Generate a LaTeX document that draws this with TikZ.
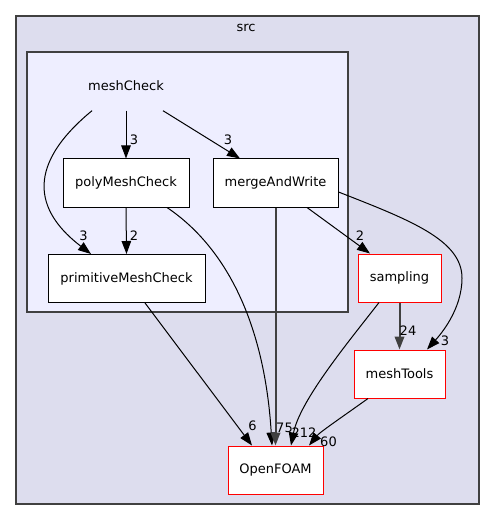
\documentclass[tikz,border=0pt]{standalone}
\usepackage{fontspec}
\setmainfont{DejaVu Sans}
\usetikzlibrary{arrows.meta}
\definecolor{srcfill}{HTML}{DDDDEE}
\definecolor{subfill}{HTML}{EEEEFF}
\definecolor{borde}{HTML}{404040}

\begin{document}
\begin{tikzpicture}[x=1pt, y=-1pt,
        every node/.style={font=\fontsize{13}{15}\selectfont},
        dir/.style={draw=black, fill=white, line width=1pt, minimum height=48pt, inner sep=0pt},
        ext/.style={dir, draw=red},
        dep/.style={-{Triangle[length=13pt,width=9.5pt]}, line width=1pt},
        gruesa/.style={dep, line width=2pt, draw=borde, fill=borde},
        cuenta/.style={inner sep=0pt}]
        \useasboundingbox (0,0) rectangle (495,521);

        % Carpetas
        \draw[fill=srcfill, draw=borde, line width=1.3pt] (16,16) rectangle (479,504);
        \node (src) at (246,28) {src};
        \draw[fill=subfill, draw=borde, line width=1.3pt] (27,52) rectangle (348,312);
        \node[minimum width=110pt, minimum height=49pt, inner sep=0pt] (meshcheck) at (126,86) {meshCheck};

        % Directorios
        \node[dir, minimum width=126pt] (poly) at (126,183) {polyMeshCheck};
        \node[dir, minimum width=125pt] (merge) at (275.5,183) {mergeAndWrite};
        \node[dir, minimum width=157pt] (prim) at (126.5,278.5) {primitiveMeshCheck};
        \node[ext, minimum width=83pt] (sampling) at (399.5,278) {sampling};
        \node[ext, minimum width=91pt] (meshtools) at (399.5,374) {meshTools};
        \node[ext, minimum width=95pt] (openfoam) at (275.5,470) {OpenFOAM};

        % Dependencias
        \draw[dep] ([xshift=-34pt]meshcheck.south) .. controls (20,170) and (40,215) .. ([xshift=-35.5pt]prim.north);
        \draw[dep] (meshcheck.south) -- (poly.north);
        \draw[dep] ([xshift=37pt]meshcheck.south) -- ([xshift=-35.5pt]merge.north);
        \draw[dep] (poly.south) -- (prim.north);
        \draw[dep] ([xshift=41pt]poly.south) .. controls (230,250) and (265,330) .. ([xshift=-3.5pt]openfoam.north);
        \draw[dep] ([xshift=18.5pt]prim.south) -- ([xshift=-23.5pt]openfoam.north);
        \draw[gruesa] (merge.south) -- (openfoam.north);
        \draw[dep] ([xshift=31.5pt]merge.south) -- ([xshift=-29.5pt]sampling.north);
        \coordinate (rodeo) at (462,278);
        \draw[dep] ([yshift=-9pt]merge.east) .. controls (410,220) and (462,240) .. (rodeo)
            .. controls (462,310) and (440,335) .. ([xshift=27.5pt]meshtools.north);
        \draw[gruesa] (sampling.south) -- (meshtools.north);
        \draw[dep] ([xshift=-20.5pt]sampling.south) .. controls (350,340) and (300,400) .. ([xshift=15.5pt]openfoam.north);
        \draw[dep] ([xshift=-31.5pt]meshtools.south) .. controls (345,415) and (320,432) .. ([xshift=33.5pt]openfoam.north);

        % Cuentas
        \node[cuenta] (c1) at (134,140) {3};
        \node[cuenta] (c2) at (228,140) {3};
        \node[cuenta] (c3) at (83.5,236) {3};
        \node[cuenta] (c4) at (134,236) {2};
        \node[cuenta] (c5) at (360,236) {2};
        \node[cuenta] (c6) at (408,331) {24};
        \node[cuenta] (c7) at (445,341) {3};
        \node[cuenta] (c8) at (252.5,425.5) {6};
        \node[cuenta] (c9) at (284.5,428) {75};
        \node[cuenta] (c10) at (304,432.5) {212};
        \node[cuenta] (c11) at (328.5,441.5) {60};
    \end{tikzpicture}
\end{document}
